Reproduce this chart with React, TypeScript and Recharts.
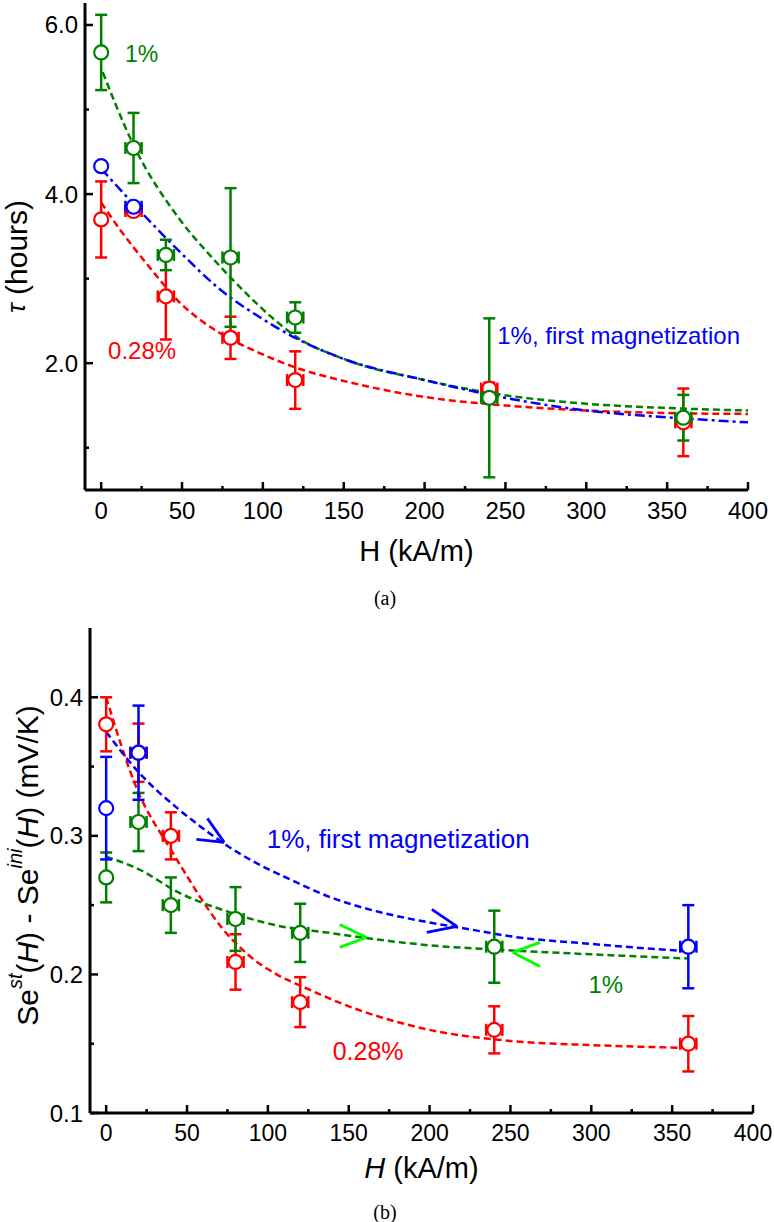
import React from 'react';
import {
  ComposedChart,
  Line,
  Scatter,
  XAxis,
  YAxis,
  ErrorBar,
  ReferenceDot,
  ReferenceLine,
} from 'recharts';

const FONT = '"Liberation Sans", Arial, Helvetica, sans-serif';
const SERIF = '"Liberation Serif", "Times New Roman", serif';
const GREEN = '#008000';
const RED = '#ff0000';
const BLUE = '#0000ff';
const LIME = '#00ff00';

// ---------- shared axis ticks ----------
const X_TICKS = [0, 25, 50, 75, 100, 125, 150, 175, 200, 225, 250, 275, 300, 325, 350, 375, 400];
const X_MAJOR = [0, 50, 100, 150, 200, 250, 300, 350, 400];
const X_DOMAIN = [-10, 400];

// ---------- (a) tau vs H ----------
const A_Y_TICKS = [1, 2, 3, 4, 5, 6];
const A_Y_MAJOR = [2, 4, 6];
const A_Y_DOMAIN = [0.5, 6.26];

const A_H = [0, 20, 40, 80, 120, 240, 360];
const A_H_ERR = [0, 5, 5, 5, 5, 5, 5];
const A_TAU_GREEN = [5.675, 4.545, 3.28, 3.25, 2.54, 1.59, 1.355];
const A_TAU_GREEN_ERR = [0.445, 0.415, 0.18, 0.82, 0.18, 0.94, 0.27];
const A_TAU_RED = [3.7, 3.8, 2.79, 2.3, 1.8, 1.7, 1.3];
const A_TAU_RED_ERR = [0.45, 0.05, 0.51, 0.25, 0.34, 0.07, 0.4];
const A_H_BLUE = [0, 20];
const A_H_BLUE_ERR = [0, 5];
const A_TAU_BLUE = [4.33, 3.85];
const A_TAU_BLUE_ERR = [0.03, 0.03];

const A_FIT_GREEN_H = [1, 20, 49, 69, 90, 105, 120, 150, 200, 250, 300, 350, 400];
const A_FIT_GREEN = [5.44, 4.58, 3.69, 3.24, 2.82, 2.55, 2.32, 2.05, 1.8, 1.62, 1.52, 1.47, 1.44];
const A_FIT_RED_H = [0, 12, 28, 49, 73, 98, 120, 150, 200, 250, 300, 350, 400];
const A_FIT_RED = [3.9, 3.57, 3.18, 2.71, 2.36, 2.12, 1.95, 1.79, 1.6, 1.5, 1.44, 1.41, 1.4];
const A_FIT_BLUE_H = [0, 28, 49, 73, 100, 120, 150, 200, 250, 300, 350, 400];
const A_FIT_BLUE = [4.3, 3.72, 3.31, 2.88, 2.52, 2.3, 2.05, 1.8, 1.59, 1.44, 1.36, 1.3];

// ---------- (b) Se difference vs H ----------
const B_Y_TICKS = [0.1, 0.15, 0.2, 0.25, 0.3, 0.35, 0.4];
const B_Y_MAJOR = [0.1, 0.2, 0.3, 0.4];
const B_Y_DOMAIN = [0.1, 0.45];

const B_H_RED = [0, 20, 40, 80, 120, 240, 360];
const B_H_RED_ERR = [0, 5, 5, 5, 5, 5, 5];
const B_SE_RED = [0.3805, 0.36, 0.3, 0.209, 0.18, 0.16, 0.15];
const B_SE_RED_ERR = [0.0195, 0.021, 0.017, 0.02, 0.018, 0.017, 0.02];
const B_H_GREEN = [0, 20, 40, 80, 120, 240];
const B_H_GREEN_ERR = [0, 5, 5, 5, 5, 5];
const B_SE_GREEN = [0.27, 0.31, 0.25, 0.24, 0.23, 0.22];
const B_SE_GREEN_ERR = [0.018, 0.021, 0.02, 0.023, 0.021, 0.026];
const B_H_BLUE = [0, 20, 360];
const B_H_BLUE_ERR = [0, 5, 5];
const B_SE_BLUE = [0.32, 0.36, 0.22];
const B_SE_BLUE_ERR = [0.037, 0.034, 0.03];

const B_FIT_RED_H = [0, 19, 40, 50, 58, 72, 87, 107, 120, 150, 200, 250, 300, 360];
const B_FIT_RED = [0.4, 0.334, 0.29, 0.271, 0.256, 0.233, 0.215, 0.199, 0.192, 0.177, 0.16, 0.152, 0.149, 0.147];
const B_FIT_GREEN_H = [0, 20, 45, 76, 107, 138, 169, 200, 240, 300, 360];
const B_FIT_GREEN = [0.285, 0.276, 0.259, 0.245, 0.235, 0.23, 0.225, 0.221, 0.218, 0.2145, 0.2115];
const B_FIT_BLUE_H = [0, 20, 45, 58, 76, 95, 113, 138, 169, 200, 225, 250, 300, 360];
const B_FIT_BLUE = [0.375, 0.346, 0.319, 0.307, 0.292, 0.279, 0.269, 0.256, 0.245, 0.2375, 0.2325, 0.2275, 0.222, 0.2166];

// arrows: [tip, arm1, arm2] as [H, value]
const B_ARROW_BLUE_1 = [[73, 0.2953], [55.8, 0.2975], [62.6, 0.3126]];
const B_ARROW_BLUE_2 = [[216.9, 0.2347], [198.3, 0.2303], [201.4, 0.2469]];
const B_ARROW_GREEN_1 = [[161, 0.2267], [144.4, 0.2361], [144.4, 0.2195]];
const B_ARROW_GREEN_2 = [[251.5, 0.2159], [268.3, 0.2231], [268.3, 0.2058]];

// annotations: [H, value]
const A_NOTE_GREEN = [25, 5.66];
const A_NOTE_RED = [25.3, 2.15];
const A_NOTE_BLUE = [320, 2.33];
const B_NOTE_BLUE = [180.6, 0.2975];
const B_NOTE_GREEN = [309, 0.1928];
const B_NOTE_RED = [162, 0.1444];

// ---------- helpers ----------
const pts = (xs: number[], ys: number[], ex?: number[], ey?: number[]) =>
  xs.map((x, i) => ({ x, y: ys[i], ex: ex ? ex[i] : 0, ey: ey ? ey[i] : 0 }));

const isMajor = (v: number, majors: number[]) => majors.some((m) => Math.abs(m - v) < 1e-6);

function XTick(props: any) {
  const { x, y, payload, side, majors, fontSize, gap, showLabel } = props;
  const v = payload.value;
  const major = isMajor(v, majors);
  const len = major ? 8 : 4;
  const dir = side === 'bottom' ? -1 : 1;
  return (
    <g>
      <line x1={x} x2={x} y1={y} y2={y + dir * len} stroke="#000" strokeWidth={2.5} />
      {showLabel && major ? (
        <text x={x} y={y + gap} textAnchor="middle" dominantBaseline="central" fontSize={fontSize} fontFamily={FONT} fill="#000">
          {String(v)}
        </text>
      ) : null}
    </g>
  );
}

function YTick(props: any) {
  const { x, y, payload, side, majors, fontSize, gap, showLabel, digits } = props;
  const v = payload.value;
  const major = isMajor(v, majors);
  const len = major ? 8 : 4;
  const dir = side === 'left' ? 1 : -1;
  return (
    <g>
      <line x1={x} x2={x + dir * len} y1={y} y2={y} stroke="#000" strokeWidth={2.5} />
      {showLabel && major ? (
        <text x={x - gap} y={y} textAnchor="end" dominantBaseline="central" fontSize={fontSize} fontFamily={FONT} fill="#000">
          {v.toFixed(digits)}
        </text>
      ) : null}
    </g>
  );
}

const circleShape = (color: string) => (p: any) =>
  p.cx == null || p.cy == null ? <g /> : <circle cx={p.cx} cy={p.cy} r={7} fill="#fff" stroke={color} strokeWidth={2.2} />;

const noteLabel = (text: string, color: string, size: number) => (p: any) => {
  const vb = p.viewBox || {};
  const cx = (vb.x || 0) + (vb.width || 0) / 2;
  const cy = (vb.y || 0) + (vb.height || 0) / 2;
  return (
    <text x={cx} y={cy} textAnchor="middle" dominantBaseline="central" fontSize={size} fontFamily={FONT} fill={color}>
      {text}
    </text>
  );
};

const axisLine = { stroke: '#000', strokeWidth: 3 };

function series(data: any[], color: string, key: string) {
  return (
    <Scatter key={key} data={data} shape={circleShape(color)} isAnimationActive={false}>
      <ErrorBar dataKey="ey" direction="y" width={6} stroke={color} strokeWidth={2.5} />
      <ErrorBar dataKey="ex" direction="x" width={6} stroke={color} strokeWidth={2.5} />
    </Scatter>
  );
}

function fit(xs: number[], ys: number[], color: string, dash: string, key: string) {
  return (
    <Line
      key={key}
      data={pts(xs, ys)}
      dataKey="y"
      type="monotone"
      stroke={color}
      strokeWidth={2.5}
      strokeDasharray={dash}
      dot={false}
      activeDot={false}
      isAnimationActive={false}
    />
  );
}

function arrow(a: number[][], color: string, key: string) {
  const [tip, a1, a2] = a;
  return [
    <ReferenceLine
      key={key + '1'}
      segment={[{ x: a1[0], y: a1[1] }, { x: tip[0], y: tip[1] }]}
      stroke={color}
      strokeWidth={2.8}
      ifOverflow="visible"
    />,
    <ReferenceLine
      key={key + '2'}
      segment={[{ x: a2[0], y: a2[1] }, { x: tip[0], y: tip[1] }]}
      stroke={color}
      strokeWidth={2.8}
      ifOverflow="visible"
    />,
  ];
}

function note(n: number[], text: string, color: string, size: number, key: string) {
  return (
    <ReferenceDot
      key={key}
      x={n[0]}
      y={n[1]}
      r={0}
      fill="none"
      stroke="none"
      ifOverflow="visible"
      label={noteLabel(text, color, size)}
    />
  );
}

function ChartA() {
  return (
    <ComposedChart width={774} height={610} margin={{ top: 3, right: 26, bottom: 0, left: 0 }}>
      <XAxis
        xAxisId={0}
        dataKey="x"
        type="number"
        domain={X_DOMAIN}
        ticks={X_TICKS}
        interval={0}
        allowDataOverflow
        height={120}
        tickSize={0}
        tickMargin={0}
        tickLine={false}
        axisLine={axisLine}
        tick={<XTick side="bottom" majors={X_MAJOR} fontSize={24} gap={20} showLabel />}
        label={(p: any) => {
          const vb = p.viewBox;
          return (
            <text x={vb.x + vb.width / 2} y={vb.y + 61} textAnchor="middle" dominantBaseline="central" fontSize={29} fontFamily={FONT} fill="#000">
              H (kA/m)
            </text>
          );
        }}
      />
      <XAxis
        xAxisId="top"
        orientation="top"
        type="number"
        domain={X_DOMAIN}
        ticks={X_TICKS}
        interval={0}
        allowDataOverflow
        height={0}
        tickSize={0}
        tickMargin={0}
        tickLine={false}
        axisLine={axisLine}
        tick={<XTick side="top" majors={X_MAJOR} />}
      />
      <YAxis
        yAxisId={0}
        dataKey="y"
        type="number"
        domain={A_Y_DOMAIN}
        ticks={A_Y_TICKS}
        interval={0}
        allowDataOverflow
        width={85}
        tickSize={0}
        tickMargin={0}
        tickLine={false}
        axisLine={axisLine}
        tick={<YTick side="left" majors={A_Y_MAJOR} fontSize={24} gap={7} digits={1} showLabel />}
        label={(p: any) => {
          const vb = p.viewBox;
          const cx = vb.x + 16;
          const cy = vb.y + vb.height / 2 + 10;
          return (
            <text x={cx} y={cy} transform={`rotate(-90 ${cx} ${cy})`} textAnchor="middle" dominantBaseline="central" fontSize={30} fontFamily={FONT} fill="#000">
              <tspan fontStyle="italic" fontSize={26}>τ</tspan> (hours)
            </text>
          );
        }}
      />
      <YAxis
        yAxisId="right"
        orientation="right"
        type="number"
        domain={A_Y_DOMAIN}
        ticks={A_Y_TICKS}
        interval={0}
        allowDataOverflow
        width={0}
        tickSize={0}
        tickMargin={0}
        tickLine={false}
        axisLine={axisLine}
        tick={<YTick side="right" majors={A_Y_MAJOR} />}
      />
      {fit(A_FIT_RED_H, A_FIT_RED, RED, '7 4', 'fr')}
      {fit(A_FIT_GREEN_H, A_FIT_GREEN, GREEN, '7 4', 'fg')}
      {fit(A_FIT_BLUE_H, A_FIT_BLUE, BLUE, '10 4 3 4', 'fb')}
      {series(pts(A_H, A_TAU_RED, A_H_ERR, A_TAU_RED_ERR), RED, 'sr')}
      {series(pts(A_H, A_TAU_GREEN, A_H_ERR, A_TAU_GREEN_ERR), GREEN, 'sg')}
      {series(pts(A_H_BLUE, A_TAU_BLUE, A_H_BLUE_ERR, A_TAU_BLUE_ERR), BLUE, 'sb')}
      {note(A_NOTE_GREEN, '1%', GREEN, 23, 'ng')}
      {note(A_NOTE_RED, '0.28%', RED, 24, 'nr')}
      {note(A_NOTE_BLUE, '1%, first magnetization', BLUE, 24, 'nb')}
    </ComposedChart>
  );
}

function ChartB() {
  return (
    <ComposedChart width={774} height={612} margin={{ top: 18, right: 21, bottom: 0, left: 0 }}>
      <XAxis
        xAxisId={0}
        dataKey="x"
        type="number"
        domain={X_DOMAIN}
        ticks={X_TICKS}
        interval={0}
        allowDataOverflow
        height={109}
        tickSize={0}
        tickMargin={0}
        tickLine={false}
        axisLine={axisLine}
        tick={<XTick side="bottom" majors={X_MAJOR} fontSize={23} gap={20} showLabel />}
        label={(p: any) => {
          const vb = p.viewBox;
          return (
            <text x={vb.x + vb.width / 2} y={vb.y + 55} textAnchor="middle" dominantBaseline="central" fontSize={29} fontFamily={FONT} fill="#000">
              <tspan fontStyle="italic">H</tspan> (kA/m)
            </text>
          );
        }}
      />
      <XAxis
        xAxisId="top"
        orientation="top"
        type="number"
        domain={X_DOMAIN}
        ticks={X_TICKS}
        interval={0}
        allowDataOverflow
        height={0}
        tickSize={0}
        tickMargin={0}
        tickLine={false}
        axisLine={axisLine}
        tick={<XTick side="top" majors={X_MAJOR} />}
      />
      <YAxis
        yAxisId={0}
        dataKey="y"
        type="number"
        domain={B_Y_DOMAIN}
        ticks={B_Y_TICKS}
        interval={0}
        allowDataOverflow
        width={90}
        tickSize={0}
        tickMargin={0}
        tickLine={false}
        axisLine={axisLine}
        tick={<YTick side="left" majors={B_Y_MAJOR} fontSize={24} gap={7} digits={1} showLabel />}
        label={(p: any) => {
          const vb = p.viewBox;
          const cx = vb.x + 27;
          const cy = vb.y + vb.height / 2 - 5;
          return (
            <text x={cx} y={cy} transform={`rotate(-90 ${cx} ${cy})`} textAnchor="middle" dominantBaseline="central" fontSize={30} fontFamily={FONT} fill="#000">
              Se
              <tspan fontStyle="italic" fontSize={20} dy={-12}>st</tspan>
              <tspan dy={12}>(</tspan>
              <tspan fontStyle="italic">H</tspan>
              <tspan>) - Se</tspan>
              <tspan fontStyle="italic" fontSize={20} dy={-12}>ini</tspan>
              <tspan dy={12}>(</tspan>
              <tspan fontStyle="italic">H</tspan>
              <tspan>) (mV/K)</tspan>
            </text>
          );
        }}
      />
      <YAxis
        yAxisId="right"
        orientation="right"
        type="number"
        domain={B_Y_DOMAIN}
        ticks={B_Y_TICKS}
        interval={0}
        allowDataOverflow
        width={0}
        tickSize={0}
        tickMargin={0}
        tickLine={false}
        axisLine={axisLine}
        tick={<YTick side="right" majors={B_Y_MAJOR} />}
      />
      {fit(B_FIT_RED_H, B_FIT_RED, RED, '7 4', 'fr')}
      {fit(B_FIT_GREEN_H, B_FIT_GREEN, GREEN, '7 4', 'fg')}
      {fit(B_FIT_BLUE_H, B_FIT_BLUE, BLUE, '7 4', 'fb')}
      {arrow(B_ARROW_BLUE_1, BLUE, 'ab1')}
      {arrow(B_ARROW_BLUE_2, BLUE, 'ab2')}
      {arrow(B_ARROW_GREEN_1, LIME, 'ag1')}
      {arrow(B_ARROW_GREEN_2, LIME, 'ag2')}
      {series(pts(B_H_RED, B_SE_RED, B_H_RED_ERR, B_SE_RED_ERR), RED, 'sr')}
      {series(pts(B_H_GREEN, B_SE_GREEN, B_H_GREEN_ERR, B_SE_GREEN_ERR), GREEN, 'sg')}
      {series(pts(B_H_BLUE, B_SE_BLUE, B_H_BLUE_ERR, B_SE_BLUE_ERR), BLUE, 'sb')}
      {note(B_NOTE_BLUE, '1%, first magnetization', BLUE, 26, 'nb')}
      {note(B_NOTE_GREEN, '1%', GREEN, 24, 'ng')}
      {note(B_NOTE_RED, '0.28%', RED, 25, 'nr')}
    </ComposedChart>
  );
}

export default function App() {
  return (
    <div style={{ position: 'absolute', left: 0, top: 0, width: 774, height: 1222, background: '#fff', overflow: 'hidden' }}>
      <div style={{ position: 'absolute', left: 0, top: 0 }}>
        <ChartA />
      </div>
      <div style={{ position: 'absolute', left: 0, top: 610 }}>
        <ChartB />
      </div>
      <div style={{ position: 'absolute', left: 0, top: 586, width: 770, textAlign: 'center', fontFamily: SERIF, fontSize: 20, lineHeight: '24px' }}>
        (a)
      </div>
      <div style={{ position: 'absolute', left: 0, top: 1200, width: 770, textAlign: 'center', fontFamily: SERIF, fontSize: 20, lineHeight: '24px' }}>
        (b)
      </div>
    </div>
  );
}
